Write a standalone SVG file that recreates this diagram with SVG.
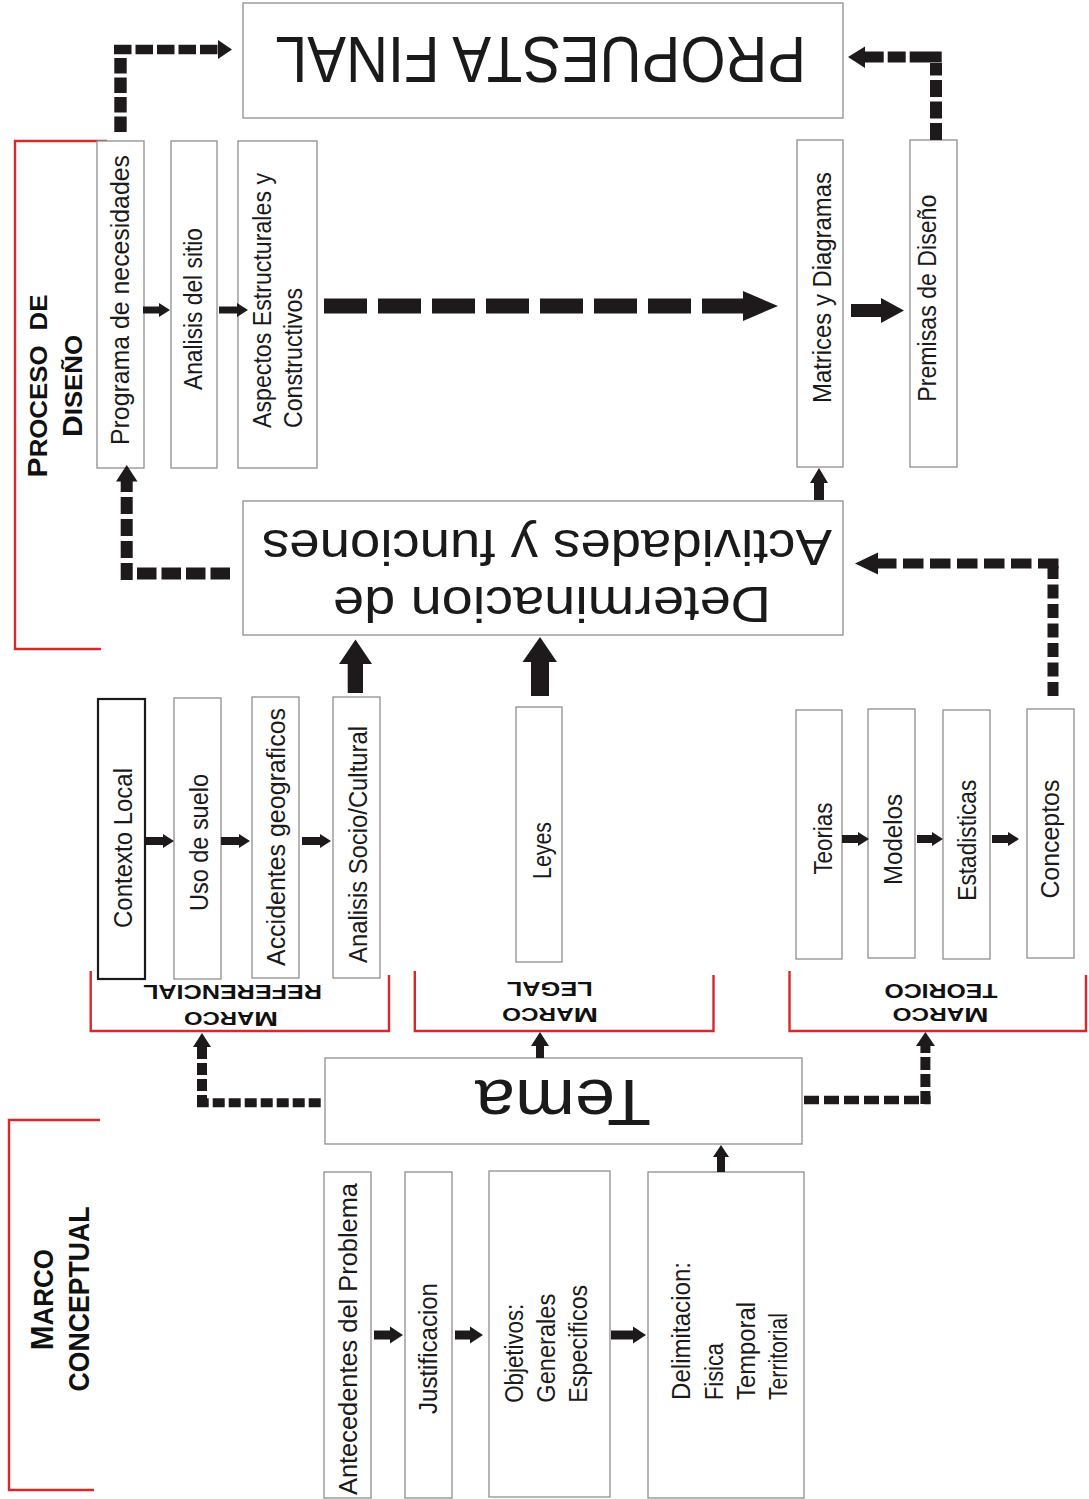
<svg xmlns="http://www.w3.org/2000/svg" width="1089" height="1499" viewBox="0 0 1089 1499">
<style>
.box{fill:#fff;stroke:#8f8f8f;stroke-width:1.3}
.boxk{fill:#fff;stroke:#1a1a1a;stroke-width:2.2}
.lbl{font-family:"Liberation Sans",Arial,sans-serif;font-size:25px;fill:#1a1a1a}
.big{font-family:"Liberation Sans",Arial,sans-serif;fill:#1a1a1a}
.hd{font-family:"Liberation Sans",Arial,sans-serif;font-weight:bold;fill:#111}
.red{fill:none;stroke:#d8282c;stroke-width:2.4}
.arr{fill:#1e1a1b}
.dsh{fill:none;stroke:#1e1a1b}
</style>
<rect width="1089" height="1499" fill="#fff"/>

<g id="brackets">
<polyline class="red" points="107,141 15,141 15,649 101,649"/>
<polyline class="red" points="100,1120 9,1120 9,1490 94,1490"/>
<polyline class="red" points="90.7,971 90.7,1031 389,1031 389,975"/>
<polyline class="red" points="414.8,971 414.8,1031 713.5,1031 713.5,975"/>
<polyline class="red" points="789.5,971 789.5,1031 1086,1031 1086,975"/>
</g>

<g id="section-labels">
<text class="hd" transform="translate(46.7,386) rotate(-90)" text-anchor="middle" textLength="183" lengthAdjust="spacingAndGlyphs"><tspan font-size="28">P</tspan><tspan font-size="24">ROCESO</tspan><tspan font-size="24" dx="14">DE</tspan></text>
<text class="hd" transform="translate(81.7,386) rotate(-90)" text-anchor="middle" textLength="102" lengthAdjust="spacingAndGlyphs"><tspan font-size="28">D</tspan><tspan font-size="24">ISEÑO</tspan></text>
<text class="hd" transform="translate(53.3,1299.7) rotate(-90)" text-anchor="middle" textLength="101" lengthAdjust="spacingAndGlyphs"><tspan font-size="32">M</tspan><tspan font-size="28">ARCO</tspan></text>
<text class="hd" transform="translate(89.3,1299) rotate(-90)" text-anchor="middle" textLength="185" lengthAdjust="spacingAndGlyphs" font-size="29">CONCEPTUAL</text>
<text class="hd" transform="translate(232.5,985) rotate(180)" text-anchor="middle" textLength="179" lengthAdjust="spacingAndGlyphs" font-size="20">REFERENCIAL</text>
<text class="hd" transform="translate(231,1012) rotate(180)" text-anchor="middle" textLength="94" lengthAdjust="spacingAndGlyphs"><tspan font-size="21">M</tspan><tspan font-size="17.5">ARCO</tspan></text>
<text class="hd" transform="translate(549.7,982) rotate(180)" text-anchor="middle" textLength="86" lengthAdjust="spacingAndGlyphs" font-size="20">LEGAL</text>
<text class="hd" transform="translate(550,1008) rotate(180)" text-anchor="middle" textLength="96" lengthAdjust="spacingAndGlyphs"><tspan font-size="21">M</tspan><tspan font-size="17.5">ARCO</tspan></text>
<text class="hd" transform="translate(941,983.6) rotate(180)" text-anchor="middle" textLength="113" lengthAdjust="spacingAndGlyphs" font-size="20">TEORICO</text>
<text class="hd" transform="translate(940.6,1008) rotate(180)" text-anchor="middle" textLength="96" lengthAdjust="spacingAndGlyphs"><tspan font-size="21">M</tspan><tspan font-size="17.5">ARCO</tspan></text>
</g>

<g id="propuesta">
<rect class="box" x="243" y="3" width="600" height="115"/>
<text class="big" font-size="64" transform="translate(540.5,37) rotate(180)" text-anchor="middle" textLength="531" lengthAdjust="spacingAndGlyphs">PROPUESTA FINAL</text>
</g>
<g id="programa">
<rect class="box" x="97" y="141" width="47" height="327"/>
<text class="lbl" transform="translate(128.5,445) rotate(-90)" textLength="290" lengthAdjust="spacingAndGlyphs">Programa de necesidades</text>
</g>
<g id="analisis-sitio">
<rect class="box" x="171" y="141" width="46" height="327"/>
<text class="lbl" transform="translate(201.7,390) rotate(-90)" textLength="162" lengthAdjust="spacingAndGlyphs">Analisis del sitio</text>
</g>
<g id="aspectos">
<rect class="box" x="238" y="141" width="79" height="327"/>
<text class="lbl" transform="translate(270.7,428) rotate(-90)" textLength="255" lengthAdjust="spacingAndGlyphs">Aspectos Estructurales y</text>
<text class="lbl" transform="translate(301.7,428) rotate(-90)" textLength="140" lengthAdjust="spacingAndGlyphs">Constructivos</text>
</g>
<g id="matrices">
<rect class="box" x="797" y="140" width="46" height="327"/>
<text class="lbl" transform="translate(830.7,403) rotate(-90)" textLength="231" lengthAdjust="spacingAndGlyphs">Matrices y Diagramas</text>
</g>
<g id="premisas">
<rect class="box" x="910" y="140" width="47" height="327"/>
<text class="lbl" transform="translate(936,401.7) rotate(-90)" textLength="207" lengthAdjust="spacingAndGlyphs">Premisas de Diseño</text>
</g>
<g id="determinacion">
<rect class="box" x="243" y="501" width="600" height="134"/>
<text class="big" font-size="50" transform="translate(552,587) rotate(180)" text-anchor="middle" textLength="438" lengthAdjust="spacingAndGlyphs">Determinacion de</text>
<text class="big" font-size="50" transform="translate(547,530) rotate(180)" text-anchor="middle" textLength="570" lengthAdjust="spacingAndGlyphs">Actividades y funciones</text>
</g>
<g id="contexto">
<rect class="boxk" x="98" y="699" width="47" height="280"/>
<text class="lbl" transform="translate(131.7,928) rotate(-90)" textLength="160" lengthAdjust="spacingAndGlyphs">Contexto Local</text>
</g>
<g id="uso-suelo">
<rect class="box" x="174" y="698" width="47" height="281"/>
<text class="lbl" transform="translate(208.3,911) rotate(-90)" textLength="137" lengthAdjust="spacingAndGlyphs">Uso de suelo</text>
</g>
<g id="accidentes">
<rect class="box" x="252" y="697" width="47" height="281"/>
<text class="lbl" transform="translate(285,966) rotate(-90)" textLength="258" lengthAdjust="spacingAndGlyphs">Accidentes geograficos</text>
</g>
<g id="analisis-socio">
<rect class="box" x="333" y="697" width="47" height="281"/>
<text class="lbl" transform="translate(366.7,963) rotate(-90)" textLength="237" lengthAdjust="spacingAndGlyphs">Analisis Socio/Cultural</text>
</g>
<g id="leyes">
<rect class="box" x="516" y="707" width="46" height="255"/>
<text class="lbl" transform="translate(551,879) rotate(-90)" textLength="57" lengthAdjust="spacingAndGlyphs">Leyes</text>
</g>
<g id="teorias">
<rect class="box" x="796" y="710" width="46" height="249"/>
<text class="lbl" transform="translate(831.6,874.6) rotate(-90)" textLength="72" lengthAdjust="spacingAndGlyphs">Teorias</text>
</g>
<g id="modelos">
<rect class="box" x="868" y="709" width="47" height="249"/>
<text class="lbl" transform="translate(901.7,885) rotate(-90)" textLength="91" lengthAdjust="spacingAndGlyphs">Modelos</text>
</g>
<g id="estadisticas">
<rect class="box" x="943" y="710" width="47" height="249"/>
<text class="lbl" transform="translate(976,900.7) rotate(-90)" textLength="121" lengthAdjust="spacingAndGlyphs">Estadisticas</text>
</g>
<g id="conceptos">
<rect class="box" x="1027" y="709" width="47" height="249"/>
<text class="lbl" transform="translate(1058.7,898.6) rotate(-90)" textLength="119" lengthAdjust="spacingAndGlyphs">Conceptos</text>
</g>
<g id="tema">
<rect class="box" x="325" y="1058" width="477" height="86"/>
<text class="big" font-size="64" transform="translate(563,1080) rotate(180)" text-anchor="middle" textLength="176" lengthAdjust="spacingAndGlyphs">Tema</text>
</g>
<g id="antecedentes">
<rect class="box" x="324" y="1172" width="47" height="326"/>
<text class="lbl" transform="translate(356.7,1495) rotate(-90)" textLength="312" lengthAdjust="spacingAndGlyphs">Antecedentes del Problema</text>
</g>
<g id="justificacion">
<rect class="box" x="405" y="1172" width="47" height="326"/>
<text class="lbl" transform="translate(436.7,1414) rotate(-90)" textLength="131" lengthAdjust="spacingAndGlyphs">Justificacion</text>
</g>
<g id="objetivos">
<rect class="box" x="489" y="1171" width="121" height="326"/>
<text class="lbl" transform="translate(522.7,1402.7) rotate(-90)" textLength="99" lengthAdjust="spacingAndGlyphs">Objetivos:</text>
<text class="lbl" transform="translate(554.6,1402.7) rotate(-90)" textLength="109" lengthAdjust="spacingAndGlyphs">Generales</text>
<text class="lbl" transform="translate(586.8,1402.7) rotate(-90)" textLength="118" lengthAdjust="spacingAndGlyphs">Especificos</text>
</g>
<g id="delimitacion">
<rect class="box" x="648" y="1172" width="156" height="326"/>
<text class="lbl" transform="translate(689.7,1400) rotate(-90)" textLength="138" lengthAdjust="spacingAndGlyphs">Delimitacion:</text>
<text class="lbl" transform="translate(722.7,1400) rotate(-90)" textLength="57" lengthAdjust="spacingAndGlyphs">Fisica</text>
<text class="lbl" transform="translate(755,1400) rotate(-90)" textLength="98" lengthAdjust="spacingAndGlyphs">Temporal</text>
<text class="lbl" transform="translate(786.8,1400) rotate(-90)" textLength="87" lengthAdjust="spacingAndGlyphs">Territorial</text>
</g>

<g id="connectors">
<path class="dsh" d="M120.5 132 V58" stroke-width="12.4" stroke-dasharray="15.5 4"/>
<path class="dsh" d="M114 49.5 H218" stroke-width="9.5" stroke-dasharray="17.5 4"/>
<polygon class="arr" points="218,40 232,49.5 218,59"/>
<path class="dsh" d="M936 140 V63" stroke-width="12" stroke-dasharray="17 4.5"/>
<path class="dsh" d="M941.7 57 H864" stroke-width="11" stroke-dasharray="32 4 18 4 20"/>
<polygon class="arr" points="865,46.5 848,57 865,68"/>
<path class="dsh" d="M324 306 H745" stroke-width="15" stroke-dasharray="43 11"/>
<polygon class="arr" points="743,291 778,306 743,321"/>
<path class="dsh" d="M126.7 580 V481" stroke-width="12" stroke-dasharray="17 5"/>
<path class="dsh" d="M230 573.5 H137" stroke-width="12" stroke-dasharray="19.5 5"/>
<polygon class="arr" points="116,481.5 126.7,465 137.5,481.5"/>
<path class="dsh" d="M1053 696 V566" stroke-width="11" stroke-dasharray="14 5.5"/>
<path class="dsh" d="M1058.5 563.5 H876" stroke-width="10" stroke-dasharray="20.5 6.5"/>
<polygon class="arr" points="878,552.5 855,563.5 878,574.5"/>
<path class="dsh" d="M320.7 1102.7 H197" stroke-width="9" stroke-dasharray="12 4"/>
<path class="dsh" d="M202 1107 V1046" stroke-width="10" stroke-dasharray="12 4"/>
<polygon class="arr" points="193,1047 202,1033 211,1047"/>
<path class="dsh" d="M804 1100 H930.5" stroke-width="8.5" stroke-dasharray="15 5"/>
<path class="dsh" d="M925.4 1104 V1045" stroke-width="10" stroke-dasharray="13 4"/>
<polygon class="arr" points="916,1046 925.4,1032 935,1046"/>
<polygon class="arr" points="143,306.5 159,306.5 159,303 170,310 159,317 159,313.5 143,313.5"/>
<polygon class="arr" points="219,306.5 237,306.5 237,303 248,310 237,317 237,313.5 219,313.5"/>
<polygon class="arr" points="851,304 881,304 881,298 904,310.5 881,323 881,317 851,317"/>
<polygon class="arr" points="814,500 814,483 810,483 819,468 828,483 824,483 824,500"/>
<polygon class="arr" points="347.7,693 347.7,664 339,664 355.5,639.6 372,664 363,664 363,693"/>
<polygon class="arr" points="531,696 531,662 522.5,662 540,637 557,662 549,662 549,696"/>
<polygon class="arr" points="145,837 163,837 163,834 174,841 163,848 163,845 145,845"/>
<polygon class="arr" points="221,837 239,837 239,834 250,841 239,848 239,845 221,845"/>
<polygon class="arr" points="302,837 320,837 320,834 331,841 320,848 320,845 302,845"/>
<polygon class="arr" points="842,835 858,835 858,832 869,839 858,846 858,843 842,843"/>
<polygon class="arr" points="917,835 932,835 932,832 943,839 932,846 932,843 917,843"/>
<polygon class="arr" points="992,835 1008,835 1008,832 1019,839 1008,846 1008,843 992,843"/>
<polygon class="arr" points="536,1058 536,1046 531,1046 540,1032 549,1046 544,1046 544,1058"/>
<polygon class="arr" points="717,1172 717,1157 713,1157 721,1145 729,1157 725,1157 725,1172"/>
<polygon class="arr" points="374,1330.5 390,1330.5 390,1326.5 403,1335 390,1343.5 390,1339.5 374,1339.5"/>
<polygon class="arr" points="455,1330.5 470,1330.5 470,1326.5 483,1335 470,1343.5 470,1339.5 455,1339.5"/>
<polygon class="arr" points="611,1330.5 633,1330.5 633,1326.5 646,1335 633,1343.5 633,1339.5 611,1339.5"/>
</g>
</svg>
